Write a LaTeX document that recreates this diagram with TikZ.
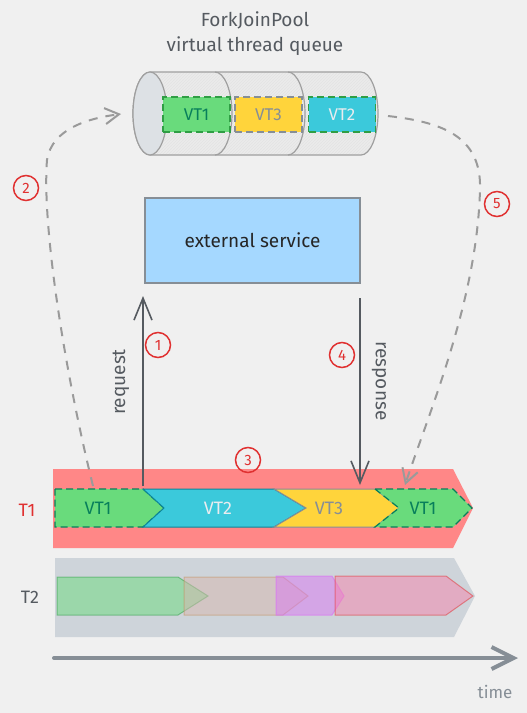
\documentclass[tikz,border=0pt]{standalone}
\usepackage{fontspec}
\setmainfont{Fira Sans}
\usetikzlibrary{arrows.meta,patterns}
\definecolor{bg}{HTML}{F0F0F0}
\definecolor{ink}{HTML}{555A60}
\definecolor{dash}{HTML}{9A9A9A}
\definecolor{redc}{HTML}{E03131}
\definecolor{vtgreen}{HTML}{69DB7C}
\definecolor{vtgreend}{HTML}{2F9E44}
\definecolor{vtgreent}{HTML}{087F5B}
\definecolor{vtyellow}{HTML}{FFD43B}
\definecolor{vtcyan}{HTML}{3BC9DB}
\definecolor{vtcyand}{HTML}{0C8599}
\definecolor{grayt}{HTML}{868E96}
\definecolor{lightt}{HTML}{E9ECEF}
\definecolor{extfill}{HTML}{A5D8FF}
\definecolor{salmon}{HTML}{FF8787}
\definecolor{t2gray}{HTML}{CED4DA}
\definecolor{brownc}{HTML}{D6B8AE}
\definecolor{purplec}{HTML}{DA77F2}
\definecolor{pinkc}{HTML}{F783AC}
\definecolor{cylfill}{HTML}{EBEBEB}
\definecolor{cylend}{HTML}{DDE1E5}
\tikzset{
  lbl/.style={font=\fontsize{19pt}{22pt}\selectfont, text=ink},
  num/.style={circle, draw=redc, line width=1.5pt, minimum size=25pt, inner sep=0pt, text=redc, font=\fontsize{15pt}{17pt}\selectfont},
  solidarrow/.style={draw=ink, line width=1.6pt, -{Straight Barb[length=22pt,width=18pt,line width=1.6pt]}},
  dasharrow/.style={draw=dash, line width=2pt, dash pattern=on 9pt off 8pt, -{Straight Barb[length=14pt,width=16pt,line width=2pt]}},
  boxdash/.style={dash pattern=on 7pt off 4pt},
  qbox/.style={minimum width=67pt, minimum height=35pt, inner sep=0pt, line width=1.5pt, boxdash, font=\fontsize{17pt}{19pt}\selectfont},
  vttext/.style={font=\fontsize{18pt}{20pt}\selectfont},
}
\begin{document}
\begin{tikzpicture}[x=1pt,y=-1pt]
\fill[bg] (0,0) rectangle (527,713);
\useasboundingbox (0,0) rectangle (527,713);

% title
\node[lbl] (title1) at (255,20) {ForkJoinPool};
\node[lbl] (title2) at (255,46) {virtual thread queue};

% cylinder
\path[fill=cylfill] (150,72) -- (361,72) arc[start angle=90,end angle=-90,x radius=17pt,y radius=41.5pt] -- (150,155) arc[start angle=270,end angle=90,x radius=17pt,y radius=41.5pt] -- cycle;
\path[pattern=north east lines, pattern color=gray!22] (150,72) -- (361,72) arc[start angle=90,end angle=-90,x radius=17pt,y radius=41.5pt] -- (150,155) arc[start angle=270,end angle=90,x radius=17pt,y radius=41.5pt] -- cycle;
\draw[draw=gray!75, line width=1.2pt] (150,72) -- (361,72) arc[start angle=90,end angle=-90,x radius=17pt,y radius=41.5pt] -- (150,155) arc[start angle=270,end angle=90,x radius=17pt,y radius=41.5pt] -- cycle;
\draw[draw=gray!75, line width=1.2pt] (215,72) arc[start angle=90,end angle=-90,x radius=17pt,y radius=41.5pt];
\draw[draw=gray!75, line width=1.2pt] (288,72) arc[start angle=90,end angle=-90,x radius=17pt,y radius=41.5pt];
\draw[draw=gray!75, fill=cylend, line width=1.2pt] (150,113.5) ellipse[x radius=17pt, y radius=41.5pt];

\node[qbox, fill=vtgreen, draw=vtgreend, text=vtgreent] (q1) at (196.5,114.5) {VT1};
\node[qbox, fill=vtyellow, draw=grayt, text=grayt] (q3) at (268.5,114.5) {VT3};
\node[qbox, fill=vtcyan, draw=vtgreend, text=lightt] (q2) at (342,114.5) {VT2};

% external service
\node[draw=grayt, fill=extfill, line width=1.5pt, minimum width=215pt, minimum height=85pt, inner sep=0pt, font=\fontsize{19pt}{22pt}\selectfont, text=black!85] (ext) at (252.5,240.5) {external service};

% T1 bar
\fill[salmon] (53,469) -- (453,469) -- (473,508) -- (453,548) -- (53,548) -- cycle;
\node[text=redc, font=\fontsize{18pt}{20pt}\selectfont] (t1) at (27,510) {T1};
\filldraw[fill=vtgreen, draw=vtgreent, line width=1.2pt, boxdash] (55,489) -- (143,489) -- (164,508) -- (143,527) -- (55,527) -- cycle;
\filldraw[fill=vtcyan, draw=vtcyand, line width=1pt] (143,489) -- (274,489) -- (306,508) -- (274,527) -- (143,527) -- (164,508) -- cycle;
\filldraw[fill=vtyellow, draw=grayt, line width=1pt] (274,489) -- (375,489) -- (399,508) -- (375,527) -- (274,527) -- (306,508) -- cycle;
\filldraw[fill=vtgreen, draw=vtgreent, line width=1.2pt, boxdash] (375,489) -- (453,489) -- (472,508) -- (453,527) -- (375,527) -- (399,508) -- cycle;
\node[vttext, text=vtgreent] (s1) at (98,508) {VT1};
\node[vttext, text=lightt] (s2) at (218,508) {VT2};
\node[vttext, text=grayt] (s3) at (329,508) {VT3};
\node[vttext, text=vtgreent] (s4) at (423,508) {VT1};

% T2 bar
\fill[t2gray] (55,558) -- (454,558) -- (475,596) -- (454,637) -- (55,637) -- cycle;
\node[text=ink, font=\fontsize{18pt}{20pt}\selectfont] (t2) at (30,597) {T2};
\filldraw[fill=vtgreen, fill opacity=0.5, draw=vtgreend, draw opacity=0.5, line width=1pt] (57,577) -- (178,577) -- (208,596) -- (178,615) -- (57,615) -- cycle;
\filldraw[fill=brownc, fill opacity=0.5, draw=brown, draw opacity=0.4, line width=1pt] (184,577) -- (283,577) -- (308,596) -- (283,615) -- (184,615) -- cycle;
\filldraw[fill=purplec, fill opacity=0.5, draw=purplec, draw opacity=0.7, line width=1pt] (276,576) -- (332,576) -- (344,596) -- (332,615) -- (276,615) -- cycle;
\filldraw[fill=pinkc, fill opacity=0.5, draw=redc, draw opacity=0.5, line width=1pt] (335,576) -- (446,576) -- (473,596) -- (446,615) -- (335,615) -- cycle;

% time axis
\coordinate (tstart) at (54,658);
\coordinate (tend) at (518,658);
\draw[draw=grayt, line width=4pt, line cap=round, -{Straight Barb[length=22pt,width=22pt,line width=4pt]}] (tstart) -- (tend);
\node[text=grayt, font=\fontsize{17pt}{19pt}\selectfont] (timel) at (495,692) {time};

% request / response
\coordinate (reqA) at (143,486);
\coordinate (reqB) at (143,296);
\coordinate (resA) at (360,298);
\coordinate (resB) at (360,485);
\draw[solidarrow] (reqA) -- (reqB);
\draw[solidarrow] (resA) -- (resB);
\node[lbl, rotate=90] (reql) at (121,382) {request};
\node[lbl, rotate=-90] (resl) at (379,381) {response};

% dashed arrows
\coordinate (d2a) at (93,486);
\coordinate (d2b) at (121,114);
\draw[dasharrow] (d2a) .. controls (62,360) and (42,220) .. (47,160) .. controls (52,128) and (90,118) .. (d2b);
\coordinate (d5a) at (388,116);
\coordinate (d5b) at (405,485);
\draw[dasharrow] (d5a) .. controls (440,122) and (482,135) .. (480,190) .. controls (477,300) and (430,410) .. (d5b);

% numbers
\node[num] (n1) at (158,345) {1};
\node[num] (n2) at (26,188) {2};
\node[num] (n3) at (248,460) {3};
\node[num] (n4) at (342,355) {4};
\node[num] (n5) at (497,204) {5};
\end{tikzpicture}
\end{document}
